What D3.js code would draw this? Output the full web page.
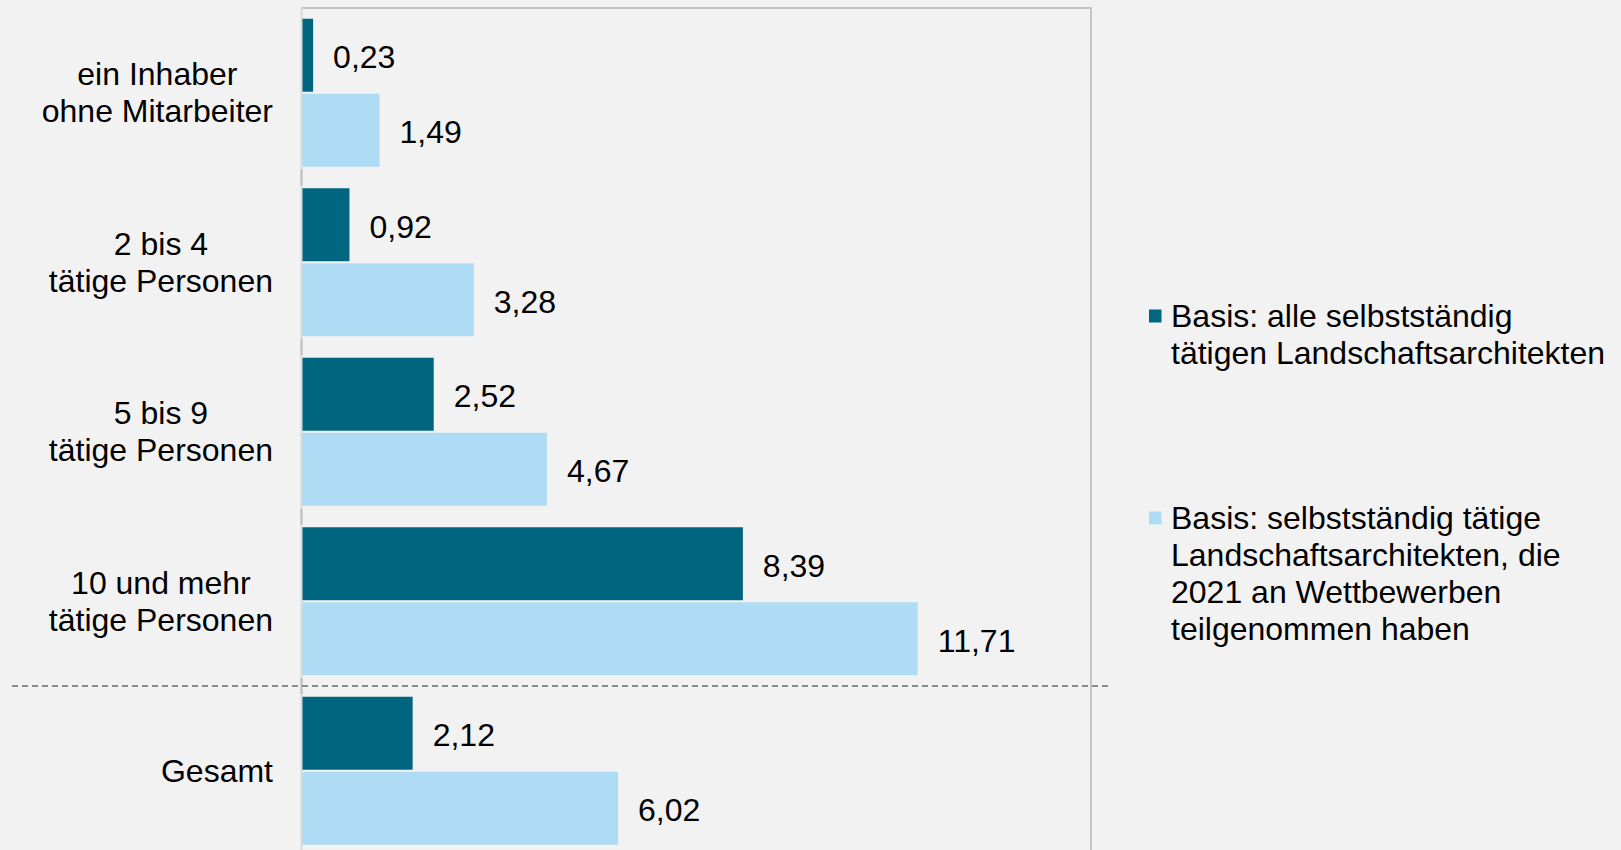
<!DOCTYPE html>
<html>
<head>
<meta charset="utf-8">
<script src="https://cdn.jsdelivr.net/npm/d3@7"></script>
<style>
  html, body { margin: 0; padding: 0; background: #f2f2f2; }
  svg { display: block; font-family: "Liberation Sans", Arial, sans-serif; }
</style>
</head>
<body>
<div id="chart"></div>
<script>
const categories = [
  "ein Inhaber\nohne Mitarbeiter",
  "2 bis 4\ntätige Personen",
  "5 bis 9\ntätige Personen",
  "10 und mehr\ntätige Personen",
  "Gesamt"
];
const seriesNames = [
  "Basis: alle selbstständig\ntätigen Landschaftsarchitekten",
  "Basis: selbstständig tätige\nLandschaftsarchitekten, die\n2021 an Wettbewerben\nteilgenommen haben"
];
const valuesAll = [0.23, 0.92, 2.52, 8.39, 2.12];
const valuesWettbewerb = [1.49, 3.28, 4.67, 11.71, 6.02];
const xDomain = [0, 15];

const colors = ["#006680", "#aedcf5"];

const width = 1621;
const height = 850;
const fontSize = 32;
const lineHeight = 37;

const svg = d3.select("#chart").append("svg")
  .attr("width", width)
  .attr("height", height);

svg.append("rect").attr("width", width).attr("height", height).attr("fill", "#f2f2f2");

const x = d3.scaleLinear().domain(xDomain).range([301, 1091]);

// 5 bands of 169.5 px, starting just under the frame top
const y = d3.scaleBand()
  .domain(categories)
  .range([8, 8 + 169.5 * categories.length])
  .paddingInner(21.5 / 169.5)
  .paddingOuter(21.5 / 169.5 / 2);

const ySub = d3.scaleBand()
  .domain([0, 1])
  .range([0, y.bandwidth()])
  .paddingInner(4 / y.bandwidth());

const fmt = d3.formatLocale({ decimal: ",", thousands: ".", grouping: [3], currency: ["", " €"] }).format(".2f");

const rows = categories.map((c, i) => ({ cat: c, vals: [valuesAll[i], valuesWettbewerb[i]] }));

// frame (top + right)
svg.append("path")
  .attr("d", `M${x.range()[0]},${y.range()[0]}H${x.range()[1]}V${height}`)
  .attr("fill", "none")
  .attr("stroke", "#c4c4c4")
  .attr("stroke-width", 2);

// bars
const groups = svg.append("g").selectAll("g")
  .data(rows)
  .join("g")
  .attr("transform", d => `translate(0,${y(d.cat)})`);

groups.selectAll("rect")
  .data(d => d.vals.map((v, k) => ({ v, k })))
  .join("rect")
  .attr("x", x(0) + 1)
  .attr("y", d => ySub(d.k))
  .attr("width", d => x(d.v) - x(0) - 1)
  .attr("height", ySub.bandwidth())
  .attr("fill", d => colors[d.k]);

groups.selectAll("text.val")
  .data(d => d.vals.map((v, k) => ({ v, k })))
  .join("text")
  .attr("class", "val")
  .attr("x", d => x(d.v) + 20)
  .attr("y", d => ySub(d.k) + ySub.bandwidth() / 2)
  .attr("dy", "0.4em")
  .attr("font-size", fontSize)
  .attr("fill", "#000")
  .text(d => fmt(d.v));

// category axis
const axisG = svg.append("g").attr("transform", `translate(${x(0) + 0.5},0)`);
axisG.call(d3.axisLeft(y).tickSize(0).tickFormat(""));
axisG.select(".domain")
  .attr("d", `M0,${y.range()[0]}V${height}`)
  .attr("stroke", "#d9d9d9")
  .attr("stroke-width", 2);

const boundaries = categories.slice(1).map(c => y(c) - y.step() * y.paddingInner() / 2);
axisG.selectAll("line.tk")
  .data(boundaries)
  .join("line")
  .attr("class", "tk")
  .attr("x1", 0).attr("x2", 0)
  .attr("y1", d => d - 8).attr("y2", d => d + 8)
  .attr("stroke", "#bfbfbf")
  .attr("stroke-width", 2);

// category labels: block right-aligned, lines centred inside the block
const labelRight = 273;
svg.append("g").selectAll("text")
  .data(categories)
  .join("text")
  .attr("text-anchor", "middle")
  .attr("font-size", fontSize)
  .attr("fill", "#000")
  .each(function (c) {
    const lines = c.split("\n");
    const cy = y(c) + y.bandwidth() / 2;
    const t = d3.select(this);
    const spans = lines.map((l, i) => t.append("tspan")
      .attr("y", cy + (i - (lines.length - 1) / 2) * lineHeight)
      .attr("dy", "0.35em")
      .text(l));
    const maxW = d3.max(spans, s => s.node().getComputedTextLength());
    spans.forEach(s => s.attr("x", labelRight - maxW / 2));
  });

// separator before "Gesamt"
const sepY = boundaries[boundaries.length - 1];
svg.append("line")
  .attr("x1", 12).attr("x2", 1109)
  .attr("y1", sepY).attr("y2", sepY)
  .attr("stroke", "#8c8c8c")
  .attr("stroke-width", 2)
  .attr("stroke-dasharray", "6,4");

// legend
const legendTop = [326.5, 528.5];
const legend = svg.append("g").selectAll("g")
  .data(seriesNames)
  .join("g")
  .attr("transform", (d, i) => `translate(1149,${legendTop[i]})`);

legend.append("rect")
  .attr("x", 0)
  .attr("y", -17)
  .attr("width", 12.5)
  .attr("height", 13)
  .attr("fill", (d, i) => colors[i]);

legend.append("text")
  .attr("font-size", fontSize)
  .attr("fill", "#000")
  .each(function (s) {
    const t = d3.select(this);
    s.split("\n").forEach((l, i) => {
      t.append("tspan").attr("x", 22).attr("y", i * lineHeight).text(l);
    });
  });
</script>
</body>
</html>
